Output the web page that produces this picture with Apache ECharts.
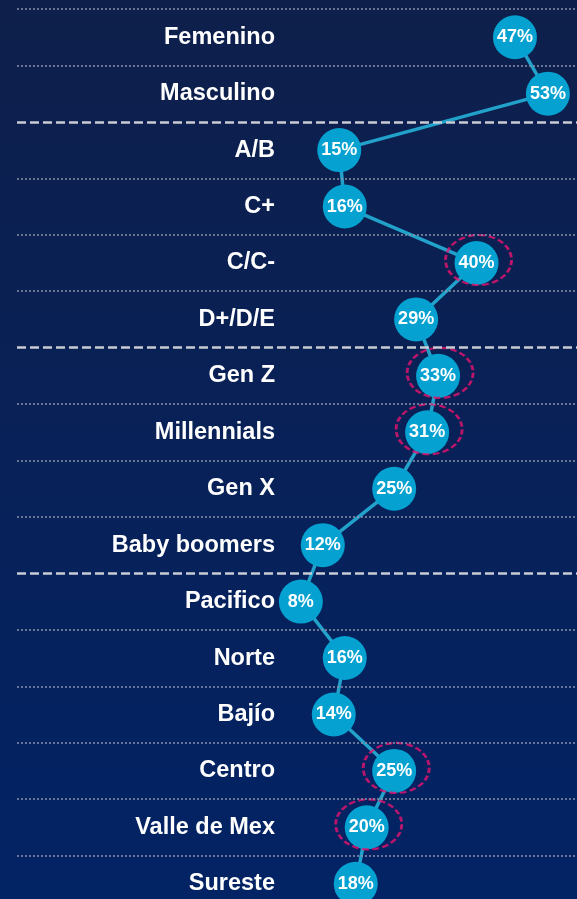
<!DOCTYPE html>
<html>
<head>
<meta charset="utf-8">
<script src="https://cdn.jsdelivr.net/npm/echarts@6/dist/echarts.min.js"></script>
<style>
  html, body { margin: 0; padding: 0; overflow: hidden; }
  /* taller than the window so the last row's band runs past the bottom edge */
  #chart { width: 577px; height: 912px; }
</style>
</head>
<body>
<div id="chart"></div>
<script>
const categories = [
  'Femenino', 'Masculino',
  'A/B', 'C+', 'C/C-', 'D+/D/E',
  'Gen Z', 'Millennials', 'Gen X', 'Baby boomers',
  'Pacifico', 'Norte', 'Bajío', 'Centro', 'Valle de Mex', 'Sureste'
]
const values = [47, 53, 15, 16, 40, 29, 33, 31, 25, 12, 8, 16, 14, 25, 20, 18]
const highlighted = ['C/C-', 'Gen Z', 'Millennials', 'Centro', 'Valle de Mex']
// row boundaries where a new group starts (dashed separators)
const groupBreaks = [2, 6, 10]

const ellipsePath = 'path://M50,0 C77.6,0 100,22.4 100,50 C100,77.6 77.6,100 50,100 C22.4,100 0,77.6 0,50 C0,22.4 22.4,0 50,0 Z'

function separatorLines() {
  const lines = []
  for (let i = 0; i < categories.length; i++) {
    const dashed = groupBreaks.includes(i)
    lines.push({
      yAxis: i,
      lineStyle: dashed
        ? { color: '#c9ccd4', width: 2.5, type: [9, 4] }
        : { color: '#8a92aa', width: 1.5, type: [2, 2] }
    })
  }
  return lines
}

const chart = echarts.init(document.getElementById('chart'))
chart.setOption({
  animation: false,
  backgroundColor: new echarts.graphic.LinearGradient(0, 0, 0, 1, [
    { offset: 0, color: '#0e1f4b' },
    { offset: 1, color: '#022365' }
  ]),
  grid: { left: 17, right: 0, top: 9, bottom: 0 },
  xAxis: {
    type: 'value', min: -43.7, max: 58.3,
    show: false
  },
  yAxis: [{
    type: 'category', data: categories, inverse: true,
    axisLine: { show: false }, axisTick: { show: false }, splitLine: { show: false },
    axisLabel: {
      margin: -258, color: '#ffffff', fontWeight: 'bold', fontSize: 23.5,
      fontFamily: 'Liberation Sans, Arial, sans-serif'
    }
  }, {
    type: 'value', min: 0, max: 16, inverse: true, show: false
  }],
  series: [
    {
      name: 'sep', type: 'line', data: [], yAxisIndex: 1, silent: true,
      markLine: {
        silent: true, symbol: 'none', label: { show: false },
        data: separatorLines()
      }
    },
    {
      name: 'pct', type: 'line', data: values, yAxisIndex: 0,
      symbol: 'circle', symbolSize: 44,
      lineStyle: { color: '#22a1ca', width: 3.5 },
      itemStyle: { color: '#04a1d1' },
      label: {
        show: true, position: 'inside', formatter: '{c}%',
        color: '#ffffff', fontWeight: 'bold', fontSize: 18,
        fontFamily: 'Liberation Sans, Arial, sans-serif'
      },
      z: 3
    },
    {
      name: 'hl', type: 'scatter', yAxisIndex: 0,
      data: values.map((v, i) => highlighted.includes(categories[i]) ? v : '-'),
      symbol: ellipsePath, symbolSize: [66, 50], symbolOffset: [2, -3],
      itemStyle: {
        color: 'transparent', borderColor: '#e8136f', borderWidth: 2.5,
        borderType: [6, 3]
      },
      silent: true, z: 4
    }
  ]
})
</script>
</body>
</html>
